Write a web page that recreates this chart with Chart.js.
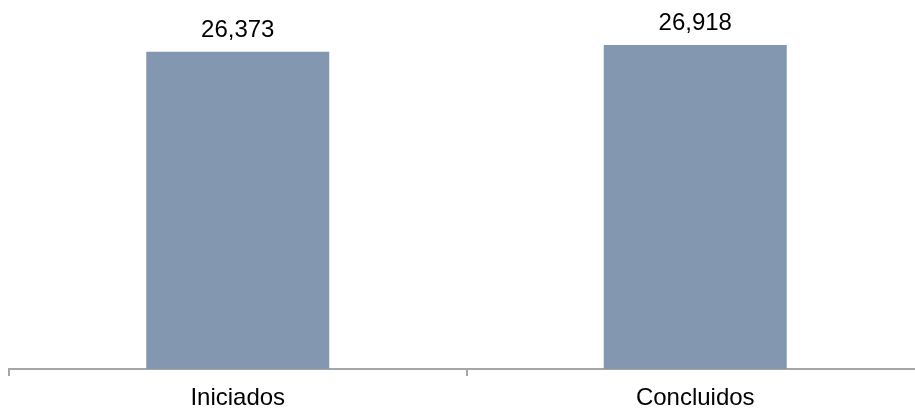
<!DOCTYPE html>
<html>
<head>
<meta charset="utf-8">
<script src="https://cdn.jsdelivr.net/npm/chart.js@4"></script>
<style>
  html, body { margin: 0; padding: 0; background: #fff; overflow: hidden; width: 915px; height: 411px; }
  #wrap { position: relative; width: 935px; height: 411px; }
</style>
</head>
<body>
<div id="wrap"><canvas id="c" width="935" height="411"></canvas></div>
<script>
const categories = ['Iniciados', 'Concluidos'];
const values = [26373, 26918];
const yMax = 30000;

const FONT = '"Liberation Sans", Arial, sans-serif';
const AXIS_GRAY = '#A6A6A6';

const valueLabels = {
  id: 'valueLabels',
  afterDatasetsDraw(chart) {
    const ctx = chart.ctx;
    const meta = chart.getDatasetMeta(0);
    ctx.save();
    ctx.font = '24px ' + FONT;
    ctx.fillStyle = '#000';
    ctx.textAlign = 'center';
    ctx.textBaseline = 'alphabetic';
    meta.data.forEach((bar, i) => {
      const v = chart.data.datasets[0].data[i];
      ctx.fillText(v.toLocaleString('en-US'), bar.x, bar.y - 15);
    });
    ctx.restore();
  }
};

new Chart(document.getElementById('c'), {
  type: 'bar',
  data: {
    labels: categories,
    datasets: [{
      data: values,
      backgroundColor: '#8497B0',
      borderWidth: 0,
      categoryPercentage: 0.8,
      barPercentage: 0.5
    }]
  },
  options: {
    responsive: false,
    animation: false,
    devicePixelRatio: 1,
    layout: { padding: { left: 9, right: 11, top: 8, bottom: 0 } },
    plugins: { legend: { display: false }, tooltip: { enabled: false } },
    scales: {
      y: { display: false, min: 0, max: yMax },
      x: {
        afterFit(scale) { scale.height = 42; },
        grid: {
          display: true,
          offset: true,
          drawOnChartArea: false,
          drawTicks: true,
          tickLength: 7,
          color: AXIS_GRAY,
          lineWidth: 2
        },
        border: { display: true, color: AXIS_GRAY, width: 2 },
        ticks: {
          color: '#000',
          padding: 8,
          font: { family: FONT, size: 24 }
        }
      }
    }
  },
  plugins: [valueLabels]
});
</script>
</body>
</html>
